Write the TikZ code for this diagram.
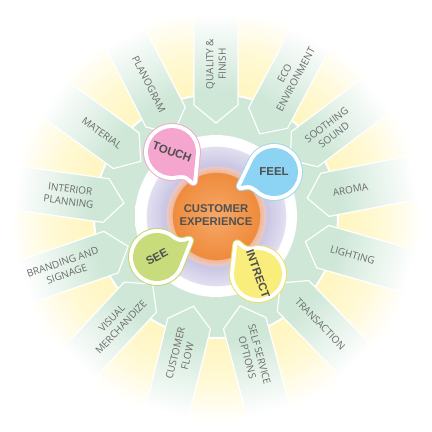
\documentclass[tikz,border=0pt]{standalone}
\usepackage{fontspec}
\setmainfont{Open Sans}
\newfontfamily\hvfont{Liberation Sans}
\definecolor{mint}{RGB}{206,231,215}
\definecolor{glowy}{RGB}{255,245,190}
\definecolor{glowy2}{RGB}{255,249,212}
\definecolor{labelgray}{RGB}{108,108,108}
\definecolor{centertext}{RGB}{80,80,80}
\definecolor{orangec}{RGB}{246,168,104}
\definecolor{orangee}{RGB}{239,139,60}
\definecolor{peach}{RGB}{243,181,146}
\definecolor{peach2}{RGB}{232,202,200}
\definecolor{lavin}{RGB}{201,197,227}
\definecolor{lavout}{RGB}{226,224,241}
\definecolor{touchf}{RGB}{244,166,207}
\definecolor{touchr}{RGB}{240,170,205}
\definecolor{feelf}{RGB}{141,211,244}
\definecolor{feelr}{RGB}{160,215,238}
\definecolor{seef}{RGB}{200,220,124}
\definecolor{seer}{RGB}{196,216,110}
\definecolor{intf}{RGB}{249,238,124}
\definecolor{intr}{RGB}{238,224,100}
\pgfdeclareradialshading{glow}{\pgfpoint{0bp}{0bp}}{color(0bp)=(white); color(13.9bp)=(glowy); color(19bp)=(glowy2); color(24bp)=(white); color(25bp)=(white); color(50bp)=(white)}
\pgfdeclarehorizontalshading{rayshade}{100bp}{color(0bp)=(mint); color(38bp)=(mint); color(71bp)=(white); color(100bp)=(white)}
\pgfdeclareradialshading{core}{\pgfpoint{0bp}{0bp}}{color(0bp)=(orangec); color(13.43bp)=(orangee); color(13.46bp)=(peach); color(15.28bp)=(peach2); color(15.59bp)=(lavin); color(21.6bp)=(lavout); color(21.7bp)=(white); color(25bp)=(white); color(50bp)=(white)}
\newcommand\bubshape[1]{\path[#1] (44:24) arc[start angle=44, end angle=340, radius=24] .. controls (27,-2) .. (36,0) -- cycle;}
\tikzset{
  raylabel/.style={font=\fontsize{10}{12.5}\selectfont, text=labelgray, align=center, inner sep=0pt},
  bubtext/.style={font=\hvfont\bfseries\fontsize{11.5}{12}\selectfont, text=centertext, inner sep=0pt},
  coretext/.style={font=\hvfont\bfseries\fontsize{11.3}{12.4}\selectfont, text=centertext, align=center, inner sep=0pt}
}
\begin{document}
\begin{tikzpicture}[x=1pt,y=1pt]
\useasboundingbox (0,0) rectangle (432,432);
\fill[white] (0,0) rectangle (432,432);
\shade[shading=glow] (216,216) circle[radius=215];
\fill[mint, draw=white, line width=2] (216,216) circle[radius=122];
\foreach \a/\r/\l/\t in {90/152/{QUALITY \&\\FINISH}/0, 62/158/{ECO\\ENVIRONMENT}/0, 37/143/{SOOTHING\\SOUND}/0, 11/137/{AROMA}/0, -16/142/{LIGHTING}/0, -46/150/{TRANSACTION}/0, -75/145/{SELF SERVICE\\OPTIONS}/0, -104/143/{CUSTOMER\\FLOW}/180, -133/146/{VISUAL\\MERCHANDIZE}/180, -161/160/{BRANDING AND\\SIGNAGE}/180, 172/148/{INTERIOR\\PLANNING}/180, 144/141/{MATERIAL}/180, 117/148/{PLANOGRAM}/180} {
  \begin{scope}[transform canvas={shift={(216,216)}, rotate=\a}]
    \shade[shading=rayshade, draw=white, line width=1.2] (93,0) -- (111,22) -- (212,22) -- (212,-22) -- (111,-22) -- cycle;
    \node[raylabel, rotate=\t] (ray\a) at (\r,0) {\l};
  \end{scope}
}
\shade[shading=core] (216,216) circle[radius=81];
\node[coretext] (ce) at (216,217) {CUSTOMER\\EXPERIENCE};
\foreach \bx/\by/\ph/\s/\fc/\rc/\lab/\rot in {172/280/-54/1/touchf/touchr/TOUCH/-20, 274/260/203/-1/feelf/feelr/FEEL/0, 157/175/27/-1/seef/seer/SEE/28, 258/158/125/1/intf/intr/INTRECT/-70} {
  \begin{scope}[shift={(\bx,\by)}, rotate=\ph, yscale=\s]
    \bubshape{draw=\rc, line width=10, line join=round}
    \bubshape{draw=white, line width=8, line join=round}
    \bubshape{fill=\fc}
  \end{scope}
  \node[bubtext, rotate=\rot] (b\lab) at (\bx,\by) {\lab};
}
\end{tikzpicture}
\end{document}
